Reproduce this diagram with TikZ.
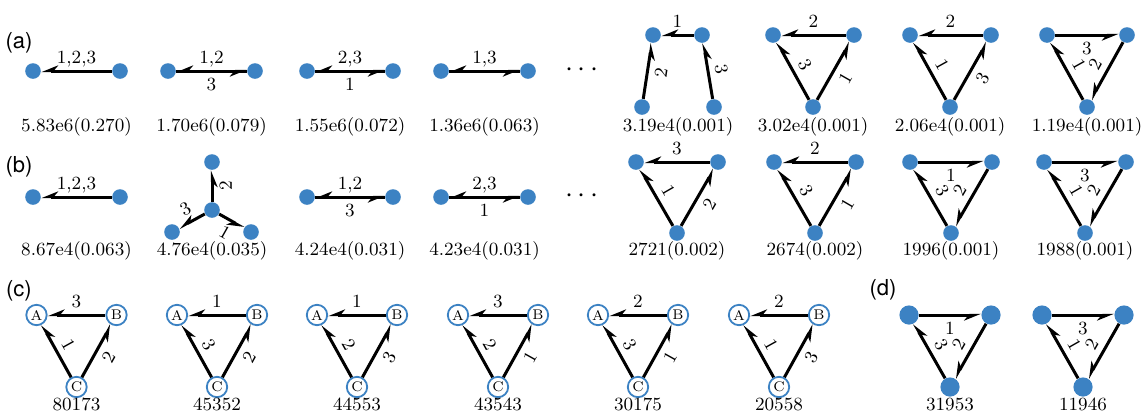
\documentclass[tikz,border=0pt]{standalone}
\usepackage{fontspec}
\newfontfamily\panelfont{TeX Gyre Heros}
\usetikzlibrary{arrows.meta}
\definecolor{nodeblue}{RGB}{60,130,195}

\begin{document}
\begin{tikzpicture}[
            x=0.5pt, y=0.5pt,
            vert/.style={circle,fill=nodeblue,minimum size=7.8pt,inner sep=0pt},
            bigvert/.style={vert,minimum size=9.6pt},
            letter/.style={circle,draw=nodeblue,fill=white,line width=0.9pt,minimum size=10.2pt,inner sep=0pt,font=\fontsize{7}{7}\selectfont},
            edge/.style={line width=1.5pt,-{Stealth[harpoon,swap,length=7pt,width=5.6pt]}},
            lbl/.style={auto=right,sloped,inner sep=3pt,text depth=0pt,font=\fontsize{9.3}{10}\selectfont},
            lblw/.style={lbl,auto=left},
            count/.style={font=\fontsize{9.3}{10}\selectfont},
            panel/.style={font=\panelfont\fontsize{11}{13}\selectfont}
        ]
          \useasboundingbox (0,0) rectangle (1143,-414);
          % (a)
          \node[panel] (pa) at (19,-43) {(a)};
          \node[vert] (a1a) at (33,-71) {}; \node[vert] (a1b) at (120,-71) {};
          \draw[edge] (a1b) -- node[lblw] {1,2,3} (a1a);
          \node[vert] (a2a) at (168,-71) {}; \node[vert] (a2b) at (255,-71) {};
          \draw[edge] (a2b) -- node[lblw] {1,2} (a2a); \draw[edge] (a2a) -- node[lbl] {3} (a2b);
          \node[vert] (a3a) at (307,-71) {}; \node[vert] (a3b) at (393,-71) {};
          \draw[edge] (a3b) -- node[lblw] {2,3} (a3a); \draw[edge] (a3a) -- node[lbl] {1} (a3b);
          \node[vert] (a4a) at (441,-71) {}; \node[vert] (a4b) at (528,-71) {};
          \draw[edge] (a4b) -- node[lblw] {1,3} (a4a); \draw[edge] (a4a) -- (a4b);
          \node (dotsa) at (582,-70) {\fontsize{15}{15}\selectfont$\cdots$};
          \node[vert] (a5a) at (653,-35) {}; \node[vert] (a5b) at (702,-35) {};
          \node[vert] (a5c) at (642,-107) {}; \node[vert] (a5d) at (714,-107) {};
          \draw[edge] (a5b) -- node[lblw] {1} (a5a); \draw[edge] (a5c) -- node[lbl] {2} (a5a); \draw[edge] (a5d) -- node[lblw] {3} (a5b);
          \node[vert] (a6a) at (773,-35) {}; \node[vert] (a6b) at (854,-35) {}; \node[vert] (a6c) at (813,-107) {};
          \draw[edge] (a6b) -- node[lblw] {2} (a6a); \draw[edge] (a6c) -- node[lblw] {3} (a6a); \draw[edge] (a6c) -- node[lbl] {1} (a6b);
          \node[vert] (a7a) at (910,-35) {}; \node[vert] (a7b) at (991,-35) {}; \node[vert] (a7c) at (950,-107) {};
          \draw[edge] (a7b) -- node[lblw] {2} (a7a); \draw[edge] (a7c) -- node[lblw] {1} (a7a); \draw[edge] (a7c) -- node[lbl] {3} (a7b);
          \node[vert] (a8a) at (1047,-35) {}; \node[vert] (a8b) at (1127,-35) {}; \node[vert] (a8c) at (1087,-107) {};
          \draw[edge] (a8a) -- node[lbl] {3} (a8b); \draw[edge] (a8c) -- node[lblw] {1} (a8a); \draw[edge] (a8b) -- node[lblw] {2} (a8c);
          \node[count] (ca1) at (76.5,-127) {5.83e6(0.270)}; \node[count] (ca2) at (211.5,-127) {1.70e6(0.079)};
          \node[count] (ca3) at (350,-127) {1.55e6(0.072)}; \node[count] (ca4) at (484.5,-127) {1.36e6(0.063)};
          \node[count] (ca5) at (678,-127) {3.19e4(0.001)}; \node[count] (ca6) at (813,-127) {3.02e4(0.001)};
          \node[count] (ca7) at (950,-127) {2.06e4(0.001)}; \node[count] (ca8) at (1087,-127) {1.19e4(0.001)};
          % (b)
          \node[panel] (pb) at (19,-167) {(b)};
          \node[vert] (b1a) at (33,-197) {}; \node[vert] (b1b) at (120,-197) {};
          \draw[edge] (b1b) -- node[lblw] {1,2,3} (b1a);
          \node[vert] (b2m) at (212,-210) {}; \node[vert] (b2t) at (212,-162) {};
          \node[vert] (b2l) at (172,-232) {}; \node[vert] (b2r) at (251,-232) {};
          \draw[edge] (b2m) -- node[lbl] {2} (b2t); \draw[edge] (b2m) -- node[lblw] {3} (b2l); \draw[edge] (b2m) -- node[lbl] {1} (b2r);
          \node[vert] (b3a) at (307,-197) {}; \node[vert] (b3b) at (393,-197) {};
          \draw[edge] (b3b) -- node[lblw] {1,2} (b3a); \draw[edge] (b3a) -- node[lbl] {3} (b3b);
          \node[vert] (b4a) at (441,-197) {}; \node[vert] (b4b) at (528,-197) {};
          \draw[edge] (b4b) -- node[lblw] {2,3} (b4a); \draw[edge] (b4a) -- node[lbl] {1} (b4b);
          \node (dotsb) at (582,-196) {\fontsize{15}{15}\selectfont$\cdots$};
          \node[vert] (b5a) at (636,-162) {}; \node[vert] (b5b) at (718,-162) {}; \node[vert] (b5c) at (677,-233) {};
          \draw[edge] (b5b) -- node[lblw] {3} (b5a); \draw[edge] (b5c) -- node[lblw] {1} (b5a); \draw[edge] (b5c) -- node[lbl] {2} (b5b);
          \node[vert] (b6a) at (774,-162) {}; \node[vert] (b6b) at (856,-162) {}; \node[vert] (b6c) at (815,-233) {};
          \draw[edge] (b6b) -- node[lblw] {2} (b6a); \draw[edge] (b6c) -- node[lblw] {3} (b6a); \draw[edge] (b6c) -- node[lbl] {1} (b6b);
          \node[vert] (b7a) at (910,-162) {}; \node[vert] (b7b) at (992,-162) {}; \node[vert] (b7c) at (951,-233) {};
          \draw[edge] (b7a) -- node[lbl] {1} (b7b); \draw[edge] (b7c) -- node[lblw] {3} (b7a); \draw[edge] (b7b) -- node[lblw] {2} (b7c);
          \node[vert] (b8a) at (1044,-162) {}; \node[vert] (b8b) at (1126,-162) {}; \node[vert] (b8c) at (1085,-233) {};
          \draw[edge] (b8a) -- node[lbl] {3} (b8b); \draw[edge] (b8c) -- node[lblw] {1} (b8a); \draw[edge] (b8b) -- node[lblw] {2} (b8c);
          \node[count] (cb1) at (76.5,-251) {8.67e4(0.063)}; \node[count] (cb2) at (212,-251) {4.76e4(0.035)};
          \node[count] (cb3) at (350,-251) {4.24e4(0.031)}; \node[count] (cb4) at (484.5,-251) {4.23e4(0.031)};
          \node[count] (cb5) at (677,-251) {2721(0.002)}; \node[count] (cb6) at (815,-251) {2674(0.002)};
          \node[count] (cb7) at (951,-251) {1996(0.001)}; \node[count] (cb8) at (1085,-251) {1988(0.001)};
          % (c)
          \node[panel] (pc) at (19,-291) {(c)};
          \node[letter] (c1a) at (36.5,-315) {A}; \node[letter] (c1b) at (116.5,-315) {B}; \node[letter] (c1c) at (76.5,-387) {C};
          \draw[edge] (c1b) -- node[lblw] {3} (c1a); \draw[edge] (c1c) -- node[lblw] {1} (c1a); \draw[edge] (c1c) -- node[lbl] {2} (c1b);
          \node[letter] (c2a) at (177,-315) {A}; \node[letter] (c2b) at (257,-315) {B}; \node[letter] (c2c) at (217,-387) {C};
          \draw[edge] (c2b) -- node[lblw] {1} (c2a); \draw[edge] (c2c) -- node[lblw] {3} (c2a); \draw[edge] (c2c) -- node[lbl] {2} (c2b);
          \node[letter] (c3a) at (317,-315) {A}; \node[letter] (c3b) at (397,-315) {B}; \node[letter] (c3c) at (357,-387) {C};
          \draw[edge] (c3b) -- node[lblw] {1} (c3a); \draw[edge] (c3c) -- node[lblw] {2} (c3a); \draw[edge] (c3c) -- node[lbl] {3} (c3b);
          \node[letter] (c4a) at (458,-315) {A}; \node[letter] (c4b) at (538,-315) {B}; \node[letter] (c4c) at (498,-387) {C};
          \draw[edge] (c4b) -- node[lblw] {3} (c4a); \draw[edge] (c4c) -- node[lblw] {2} (c4a); \draw[edge] (c4c) -- node[lbl] {1} (c4b);
          \node[letter] (c5a) at (598,-315) {A}; \node[letter] (c5b) at (678,-315) {B}; \node[letter] (c5c) at (638,-387) {C};
          \draw[edge] (c5b) -- node[lblw] {2} (c5a); \draw[edge] (c5c) -- node[lblw] {3} (c5a); \draw[edge] (c5c) -- node[lbl] {1} (c5b);
          \node[letter] (c6a) at (739,-315) {A}; \node[letter] (c6b) at (819,-315) {B}; \node[letter] (c6c) at (779,-387) {C};
          \draw[edge] (c6b) -- node[lblw] {2} (c6a); \draw[edge] (c6c) -- node[lblw] {1} (c6a); \draw[edge] (c6c) -- node[lbl] {3} (c6b);
          \node[count] (cc1) at (76.5,-404) {80173}; \node[count] (cc2) at (217,-404) {45352}; \node[count] (cc3) at (357,-404) {44553};
          \node[count] (cc4) at (498,-404) {43543}; \node[count] (cc5) at (638,-404) {30175}; \node[count] (cc6) at (779,-404) {20558};
          % (d)
          \node[panel] (pd) at (883,-290) {(d)};
          \node[bigvert] (d1a) at (909,-315) {}; \node[bigvert] (d1b) at (991,-315) {}; \node[bigvert] (d1c) at (950,-387) {};
          \draw[edge] (d1a) -- node[lbl] {1} (d1b); \draw[edge] (d1c) -- node[lblw] {3} (d1a); \draw[edge] (d1b) -- node[lblw] {2} (d1c);
          \node[bigvert] (d2a) at (1042,-315) {}; \node[bigvert] (d2b) at (1124,-315) {}; \node[bigvert] (d2c) at (1083,-387) {};
          \draw[edge] (d2a) -- node[lbl] {3} (d2b); \draw[edge] (d2c) -- node[lblw] {1} (d2a); \draw[edge] (d2b) -- node[lblw] {2} (d2c);
          \node[count] (cd1) at (950,-404) {31953}; \node[count] (cd2) at (1083,-404) {11946};
        \end{tikzpicture}
\end{document}
